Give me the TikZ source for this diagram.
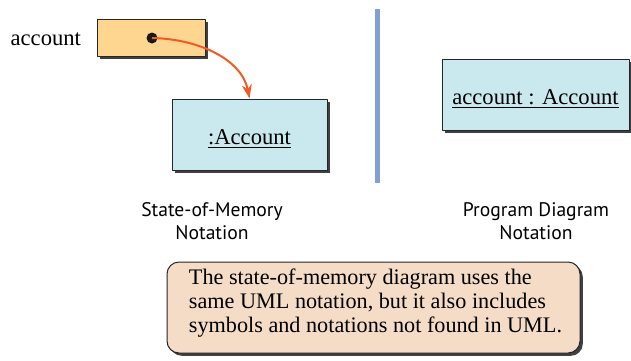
\documentclass[tikz,border=0pt]{standalone}
\usepackage{fontspec}
\setmainfont{Liberation Serif}
\newfontfamily\capfont{PT Sans}
\usetikzlibrary{arrows.meta,shadows}
\definecolor{varfill}{HTML}{FED690}
\definecolor{objfill}{HTML}{C9E9EF}
\definecolor{notefill}{HTML}{F4DCC7}
\definecolor{refred}{HTML}{F15A24}
\definecolor{sepblue}{HTML}{819FD4}
\begin{document}
\begin{tikzpicture}[x=0.5pt,y=-0.5pt,>={Stealth[length=7pt,width=5pt]},line join=round,
	shadowed/.style={drop shadow={shadow xshift=1.4pt,shadow yshift=-1.4pt,fill=black!75,opacity=1}},
	cell/.style={draw=black!85,line width=0.5pt,inner sep=0pt,shadowed},
	objtext/.style={text height=9.5pt,text depth=0pt,font=\fontsize{11.3}{13}\selectfont},
	caption/.style={font=\capfont\fontsize{9.8}{11.5}\selectfont,align=center}]
	\useasboundingbox (0,0) rectangle (631,360);
	% state-of-memory side
	\node[cell,fill=varfill,minimum width=54pt,minimum height=18.5pt] (var) at (151,37.5) {};
	\node[anchor=east,font=\fontsize{11.3}{13}\selectfont] (varname) at (88,39) {account};
	\coordinate (ptr) at (152,38);
	\node[cell,fill=objfill,minimum width=77.5pt,minimum height=35.5pt,objtext] (obj) at (249.5,134.5) {\underline{:Account}};
	\fill[black!90] (ptr) circle (5.5);
	\draw[->,refred,line width=1pt] (ptr) .. controls (200,39) and (242,60) .. (obj.north);
	\node[caption] (memcap) at (212,221) {State-of-Memory\\Notation};
	% separator
	\coordinate (sepT) at (377,9);
	\coordinate (sepB) at (377,183);
	\draw[sepblue,line width=2.5pt] (sepT) -- (sepB);
	% program diagram side
	\node[cell,fill=objfill,minimum width=93.5pt,minimum height=35.5pt,objtext] (prog) at (535.5,94.5) {\underline{account : Account}};
	\node[caption] (progcap) at (536,221) {Program Diagram\\Notation};
	% note
	\node[cell,fill=notefill,rounded corners=6pt,minimum width=206.5pt,minimum height=45.5pt] (note) at (373.5,307.5) {};
	\node[align=left,inner sep=0pt,font=\fontsize{11.1}{12}\selectfont] (notetxt) at (375.5,303)
		{The state-of-memory diagram uses the\\same UML notation, but it also includes\\symbols and notations not found in UML.};
\end{tikzpicture}
\end{document}
